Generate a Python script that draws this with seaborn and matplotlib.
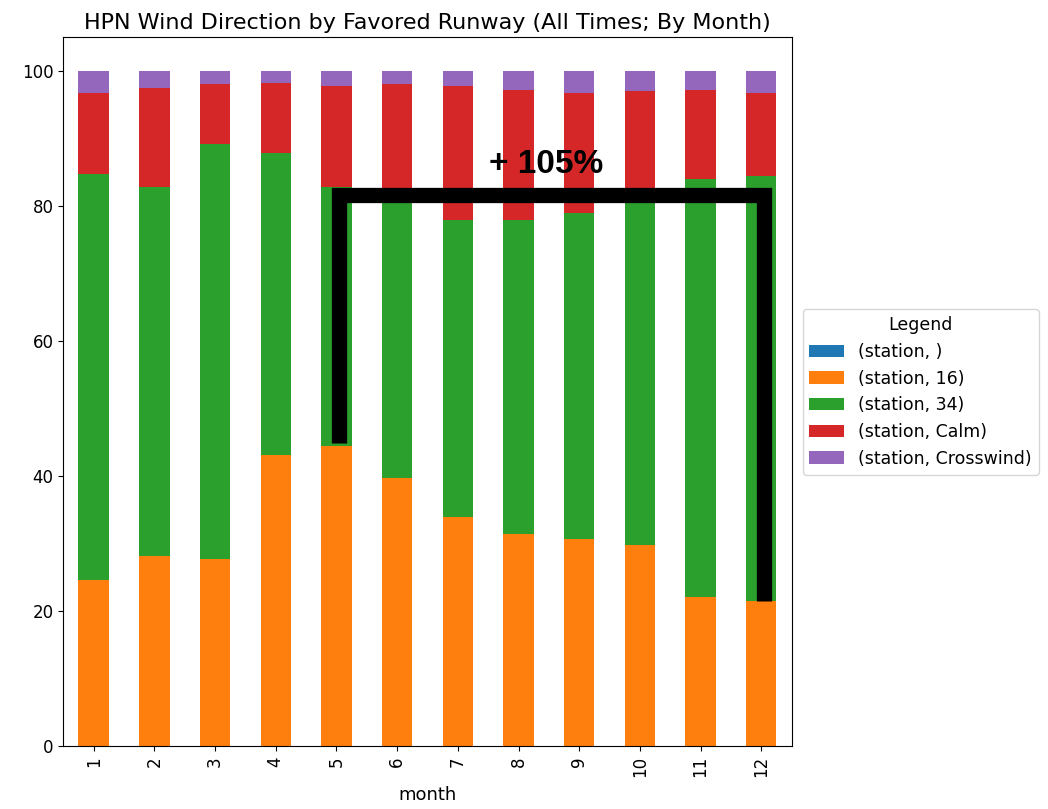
import numpy as np
import pandas as pd
import seaborn as sns
import matplotlib.pyplot as plt
from matplotlib.patches import Patch

### Share of observations per favored runway, by month (percent)
months = [1, 2, 3, 4, 5, 6, 7, 8, 9, 10, 11, 12]
blank = [0, 0, 0, 0, 0, 0, 0, 0, 0, 0, 0, 0]
rwy16 = [24.6, 28.2, 27.7, 43.1, 44.5, 39.8, 34.0, 31.5, 30.7, 29.9, 22.1, 21.6]
rwy34 = [60.2, 54.7, 61.5, 44.7, 38.4, 41.2, 44.0, 46.5, 48.3, 50.5, 61.9, 62.9]
calm = [11.9, 14.6, 8.9, 10.5, 14.9, 17.1, 19.8, 19.2, 17.7, 16.6, 13.2, 12.2]
crosswind = [3.3, 2.5, 1.9, 1.7, 2.2, 1.9, 2.2, 2.8, 3.3, 3.0, 2.8, 3.3]

series_labels = ['(station, )', '(station, 16)', '(station, 34)',
                 '(station, Calm)', '(station, Crosswind)']
colors = ['#1f77b4', '#ff7f0e', '#2ca02c', '#d62728', '#9467bd']

df = pd.DataFrame({'month': months, 'blank': blank, '16': rwy16, '34': rwy34,
                   'Calm': calm, 'Crosswind': crosswind})
cols = ['blank', '16', '34', 'Calm', 'Crosswind']
cum = df[cols].cumsum(axis=1)

fig = plt.figure(figsize=(10.48, 8.09), dpi=100)
ax = fig.add_axes([0.0604, 0.0773, 0.695, 0.8766])

### stacked bars: draw cumulative totals from the top segment down
for col, color in zip(cols[::-1], colors[::-1]):
    sns.barplot(x=df['month'], y=cum[col], color=color, saturation=1,
                width=0.5, linewidth=0, ax=ax)

ax.set_xlim(-0.5, 11.5)
ax.set_ylim(0, 105)
ax.set_yticks([0, 20, 40, 60, 80, 100])
ax.tick_params(axis='x', labelrotation=90, labelsize=12)
ax.tick_params(axis='y', labelsize=12)
ax.set_xlabel('month', fontsize=13, labelpad=6)
ax.set_ylabel('')
ax.set_title('HPN Wind Direction by Favored Runway (All Times; By Month)', fontsize=16)

### annotation bracket from May to December
i5 = months.index(5) + 0.04
i12 = months.index(12) + 0.04
ax.plot([i5, i5, i12, i12], [45.0, 81.7, 81.7, 21.6], color='black', lw=11,
        solid_joinstyle='miter', solid_capstyle='butt')
ax.text(7.45, 84.9, '+ 105%', fontsize=24, fontweight='bold', family='Liberation Sans',
        ha='center', va='baseline')

handles = [Patch(facecolor=c, label=l) for c, l in zip(colors, series_labels)]
ax.legend(handles=handles, title='Legend', loc='center left', bbox_to_anchor=(1.003, 0.5),
          fontsize=12.5, title_fontsize=12.5)

fig.savefig('out.png', dpi=100)
